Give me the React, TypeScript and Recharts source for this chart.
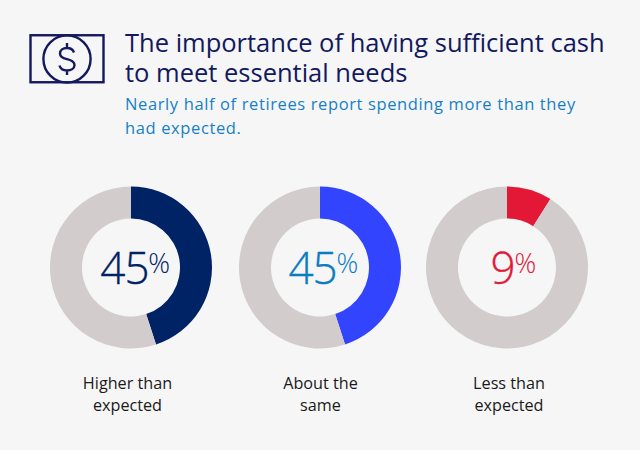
import { PieChart, Pie, Cell } from "recharts";

const categories = ["Higher than expected", "About the same", "Less than expected"];
const labelLines = [["Higher than", "expected"], ["About the", "same"], ["Less than", "expected"]];
const shares = [45, 45, 9];
const colors = ["#002366", "#3344ff", "#e31837"];
const numberColors = ["#002366", "#0a7cc4", "#e31837"];
const restColor = "#d2cccd";
const centers = [131.3, 319.5, 506.5];
const labelCenters = [127.5, 320.5, 509];

const titleLines = ["The importance of having sufficient cash", "to meet essential needs"];
const subtitleLines = ["Nearly half of retirees report spending more than they", "had expected."];

const FONT = "'Open Sans', sans-serif";

function Donut({ index }: { index: number }) {
  const value = shares[index];
  const data = [
    { name: categories[index], value },
    { name: "Other", value: 100 - value },
  ];
  const left = centers[index] - 90;
  const big = value < 10 ? -16 : -31;
  return (
    <>
      <div style={{ position: "absolute", left, top: 177, width: 180, height: 181 }}>
        <PieChart width={180} height={181} margin={{ top: 0, right: 0, bottom: 0, left: 0 }}>
          <Pie
            data={data}
            dataKey="value"
            cx={90}
            cy={90.5}
            innerRadius={49}
            outerRadius={81}
            startAngle={90}
            endAngle={-270}
            stroke="none"
            isAnimationActive={false}
          >
            <Cell fill={colors[index]} />
            <Cell fill={restColor} />
          </Pie>
        </PieChart>
        <div style={{ position: "absolute", left: 90 + big, top: 60, fontSize: 44, lineHeight: "60px", letterSpacing: -1, fontWeight: 300, WebkitTextStroke: "0.3px", color: numberColors[index], fontFamily: FONT }}>
          {value}
        </div>
        <div style={{ position: "absolute", left: 90 + big + (value < 10 ? 24 : 48), top: 71, fontSize: 27, lineHeight: "30px", fontWeight: 300, color: numberColors[index], fontFamily: FONT }}>
          %
        </div>
      </div>
      <div style={{ position: "absolute", left: labelCenters[index] - 90, width: 180, top: 372, textAlign: "center", fontSize: 16.2, lineHeight: "22px", color: "#1a1a1a", fontFamily: FONT }}>
        {labelLines[index].map((l) => (
          <div key={l}>{l}</div>
        ))}
      </div>
    </>
  );
}

export default function App() {
  return (
    <div style={{ position: "absolute", left: 0, top: 0, width: 640, height: 450, background: "#f6f6f6", fontFamily: FONT, overflow: "hidden" }}>
      {/* banknote icon */}
      <svg width={80} height={54} style={{ position: "absolute", left: 28, top: 33 }}>
        <rect x={2.5} y={2.25} width={73} height={47} fill="none" stroke="#12195f" strokeWidth={2.4} />
        <circle cx={39} cy={26} r={23.6} fill="none" stroke="#12195f" strokeWidth={2.4} />
        <path
          d="M46 19.5 C45 16.5 42.5 15 39 15 C35 15 32 17 32 20.5 C32 24.5 36 25.5 39 26.2 C42.5 27 46.5 28 46.5 32 C46.5 35.5 43 37.5 39 37.5 C35 37.5 32.3 35.5 31.5 32.5 M39 10 V15 M39 37.5 V42"
          fill="none"
          stroke="#12195f"
          strokeWidth={2.4}
        />
      </svg>
      <div style={{ position: "absolute", left: 125, top: 28, fontSize: 25.5, lineHeight: "29.5px", color: "#12195f", whiteSpace: "nowrap" }}>
        {titleLines.map((l) => (
          <div key={l}>{l}</div>
        ))}
      </div>
      <div style={{ position: "absolute", left: 125, top: 92, fontSize: 16.5, lineHeight: "24px", letterSpacing: 0.62, color: "#1580c6", whiteSpace: "nowrap" }}>
        {subtitleLines.map((l) => (
          <div key={l}>{l}</div>
        ))}
      </div>
      {shares.map((_, i) => (
        <Donut key={i} index={i} />
      ))}
    </div>
  );
}
